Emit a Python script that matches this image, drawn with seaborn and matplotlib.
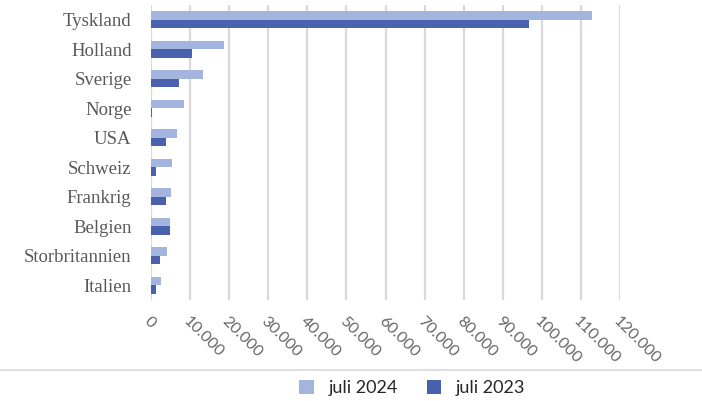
import numpy as np
import pandas as pd
import matplotlib.pyplot as plt
import matplotlib.lines as mlines
import seaborn as sns

# Data
countries = ["Tyskland", "Holland", "Sverige", "Norge", "USA", "Schweiz",
             "Frankrig", "Belgien", "Storbritannien", "Italien"]
juli_2024 = [112800, 18700, 13300, 8400, 6600, 5400, 5100, 4800, 4100, 2500]
juli_2023 = [96700, 10500, 7200, 300, 3800, 1300, 3800, 4900, 2300, 1200]
ticks = np.arange(0, 120001, 10000)
tick_labels = ["0"] + [f"{t:,}".replace(",", ".") for t in ticks[1:]]

df = pd.DataFrame({
    "land": countries * 2,
    "antal": juli_2024 + juli_2023,
    "periode": ["juli 2024"] * len(countries) + ["juli 2023"] * len(countries),
})

sns.set_style("white")
plt.rcParams["font.family"] = ["Lato", "DejaVu Sans"]

fig = plt.figure(figsize=(7.02, 4.01), dpi=100)
ax = fig.add_axes([151 / 702, 1 - 300 / 401, (620 - 151) / 702, 295 / 401])

palette = {"juli 2024": "#A3B5DE", "juli 2023": "#4A62AE"}
sns.barplot(data=df, y="land", x="antal", hue="periode", order=countries,
            hue_order=["juli 2024", "juli 2023"], palette=palette,
            orient="h", width=0.56, saturation=1, linewidth=0, ax=ax, zorder=3)

ax.set_xlim(0, 120000)
ax.set_xticks(ticks)
ax.set_xticklabels(tick_labels, rotation=-45, ha="left", va="top",
                   rotation_mode="anchor", fontsize=11.5, color="#666666")
ax.tick_params(axis="x", length=0, pad=10)
ax.tick_params(axis="y", length=0, pad=14)
for lab in ax.get_yticklabels():
    lab.set_fontfamily(["Liberation Serif", "DejaVu Serif"])
    lab.set_fontsize(13.5)
    lab.set_color("#595959")
ax.set_xlabel("")
ax.set_ylabel("")
ax.grid(axis="x", color="#D9D9D9", linewidth=1.6, zorder=0)
ax.grid(axis="y", visible=False)
sns.despine(ax=ax, left=True, bottom=True)

handles, labels = ax.get_legend_handles_labels()
ax.legend_.remove()
fig.legend(handles, labels, loc="center", bbox_to_anchor=(0.587, 1 - 388 / 401),
           ncol=2, frameon=False, fontsize=13, handlelength=0.8, handleheight=0.8,
           columnspacing=1.6, handletextpad=0.8)

fig.add_artist(mlines.Line2D([0, 1], [1 - 370 / 401] * 2, color="#D9D9D9",
                             linewidth=1.2))

fig.savefig("out.png", dpi=100)
